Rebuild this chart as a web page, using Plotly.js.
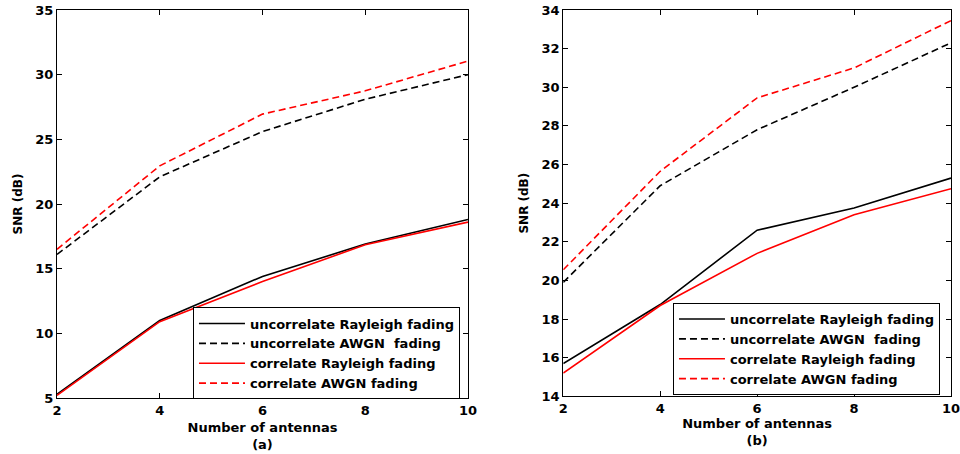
<!DOCTYPE html>
<html>
<head>
<meta charset="utf-8">
<script src="https://cdn.plot.ly/plotly-3.0.1.min.js"></script>
<style>html,body{margin:0;padding:0;background:#fff}#chart{width:960px;height:454px}</style>
</head>
<body>
<div id="chart"></div>
<script>
// Number of antennas
const antennas = [2, 4, 6, 8, 10];

// Panel (a) SNR (dB)
const a_uncorrRayleigh = [5.3, 11.0, 14.4, 16.9, 18.8];
const a_uncorrAWGN     = [16.1, 22.1, 25.6, 28.1, 30.0];
const a_corrRayleigh   = [5.2, 10.9, 14.0, 16.85, 18.6];
const a_corrAWGN       = [16.5, 22.95, 26.95, 28.75, 31.05];

// Panel (b) SNR (dB)
const b_uncorrRayleigh = [15.7, 18.75, 22.6, 23.75, 25.3];
const b_uncorrAWGN     = [19.9, 24.9, 27.8, 30.0, 32.3];
const b_corrRayleigh   = [15.2, 18.7, 21.4, 23.4, 24.75];
const b_corrAWGN       = [20.55, 25.65, 29.45, 31.0, 33.45];

const seriesNames = [
  'uncorrelate Rayleigh fading',
  'uncorrelate AWGN\u00A0 fading',
  'correlate Rayleigh fading',
  'correlate AWGN fading'
];
const yTicksA = [5, 10, 15, 20, 25, 30, 35];
const yTicksB = [14, 16, 18, 20, 22, 24, 26, 28, 30, 32, 34];
const xTicks = [2, 4, 6, 8, 10];

const styles = [
  {color: '#000000', dash: 'solid'},
  {color: '#000000', dash: '7px,4px'},
  {color: '#ff0000', dash: 'solid'},
  {color: '#ff0000', dash: '7px,4px'}
];

const dataA = [a_uncorrRayleigh, a_uncorrAWGN, a_corrRayleigh, a_corrAWGN];
const dataB = [b_uncorrRayleigh, b_uncorrAWGN, b_corrRayleigh, b_corrAWGN];

const traces = [];
dataA.forEach((ys, i) => traces.push({
  x: antennas, y: ys, type: 'scatter', mode: 'lines', name: seriesNames[i],
  line: {color: styles[i].color, dash: styles[i].dash, width: 1.6},
  xaxis: 'x', yaxis: 'y', legend: 'legend'
}));
dataB.forEach((ys, i) => traces.push({
  x: antennas, y: ys, type: 'scatter', mode: 'lines', name: seriesNames[i],
  line: {color: styles[i].color, dash: styles[i].dash, width: 1.6},
  xaxis: 'x2', yaxis: 'y2', legend: 'legend2'
}));

const FAM = 'DejaVu Sans, Liberation Sans, Arial, sans-serif';
const font = {family: FAM, size: 13, color: '#000', weight: 'bold'};
const yTitleFont = {family: FAM, size: 12, color: '#000', weight: 'bold'};
const axCommon = {
  showline: true, linecolor: '#000', linewidth: 1, mirror: 'ticks',
  ticks: 'inside', ticklen: 5, tickcolor: '#000', showgrid: false, zeroline: false,
  tickfont: font, ticklabeloverflow: 'allow'
};
const legendCommon = {
  bgcolor: '#fff', bordercolor: '#000', borderwidth: 1,
  font: {family: FAM, size: 13, color: '#000', weight: 'bold'},
  xanchor: 'left', yanchor: 'middle', itemwidth: 46, tracegroupgap: 0
};

const layout = {
  width: 960, height: 454,
  margin: {l: 57, r: 9, t: 10, b: 56},
  paper_bgcolor: '#fff', plot_bgcolor: '#fff',
  font: font,
  showlegend: true,
  xaxis: Object.assign({}, axCommon, {
    domain: [0, 0.4597], range: [2, 10], tickvals: xTicks, anchor: 'y',
    title: {text: 'Number of antennas<br>(a)', font: font, standoff: 6}
  }),
  yaxis: Object.assign({}, axCommon, {
    domain: [0, 1], range: [5, 35], tickvals: yTicksA, anchor: 'x',
    title: {text: 'SNR (dB)', font: yTitleFont, standoff: 10}
  }),
  xaxis2: Object.assign({}, axCommon, {
    domain: [0.5663, 1], range: [2, 10], tickvals: xTicks, anchor: 'y2',
    title: {text: 'Number of antennas<br>(b)', font: font, standoff: 4}
  }),
  yaxis2: Object.assign({}, axCommon, {
    domain: [0.0044, 1], range: [14, 34], tickvals: yTicksB, anchor: 'x2',
    title: {text: 'SNR (dB)', font: yTitleFont, standoff: 10}
  }),
  legend: Object.assign({}, legendCommon, {x: 0.1521, y: 0.1147}),
  legend2: Object.assign({}, legendCommon, {x: 0.6890, y: 0.1263})
};

Plotly.newPlot('chart', traces, layout, {displayModeBar: false, staticPlot: true});
</script>
</body>
</html>
